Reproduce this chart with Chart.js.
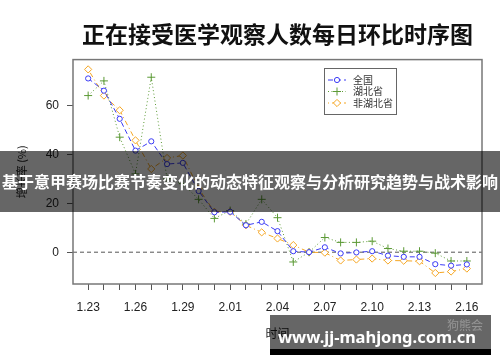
<!DOCTYPE html>
<html>
<head>
<meta charset="utf-8">
<script src="https://cdn.jsdelivr.net/npm/chart.js@4/dist/chart.umd.min.js"></script>
<style>
  body { margin: 0; background: #fff; }
  #wrap { position: relative; width: 500px; height: 362px; overflow: hidden; }
  .banner {
    position: absolute; left: 0; top: 151px; width: 500px; height: 61px;
    background: rgba(0, 0, 0, 0.6); color: #fff;
    font: bold 16px "Noto Sans CJK SC", sans-serif; line-height: 61px;
    text-align: center; white-space: nowrap; overflow: hidden;
  }
  .mark {
    position: absolute; left: 270px; top: 315px; width: 221px; height: 34px;
    background: rgba(0, 0, 0, 0.6); border-bottom: 6px solid #000;
    color: #fff; font: bold 16.5px "Noto Sans", sans-serif; line-height: 44px;
    padding-left: 8px; box-sizing: content-box; white-space: nowrap;
    width: 213px;
  }
  .logo {
    position: absolute; right: 8px; top: 1px; line-height: 14px;
    font: 12px "Noto Sans CJK SC", sans-serif; color: rgba(255, 255, 255, 0.3);
  }
</style>
</head>
<body>
<div id="wrap">
  <canvas id="chart" width="500" height="362"></canvas>
  <div class="banner">基于意甲赛场比赛节奏变化的动态特征观察与分析研究趋势与战术影响</div>
  <div class="mark"><span class="logo">狗熊会</span>www.jj-mahjong.com.cn</div>
</div>
<script>
const dates = [
  '1.23', '1.24', '1.25', '1.26', '1.27', '1.28', '1.29', '1.30', '1.31',
  '2.01', '2.02', '2.03', '2.04', '2.05', '2.06', '2.07', '2.08', '2.09',
  '2.10', '2.11', '2.12', '2.13', '2.14', '2.15', '2.16',
];

// daily change (%) of people under medical observation
const nationwide = [
  71, 66, 54.5, 41.5, 45.3, 36, 36.5, 25, 16.3, 16.5, 11, 12.4, 8.6,
  0.4, 0, 2, -0.5, -0.1, 0.4, -1.4, -1.9, -1.9, -4.9, -5.5, -5,
];
const hubei = [
  64, 70, 47, 32, 71.5, 30, 28, 21.6, 13.8, 17, 11.5, 21.6, 14.1,
  -4, 0, 6, 4, 4, 4.5, 1.5, 0.4, 0.4, -0.4, -3.6, -3.6,
];
const outsideHubei = [
  74.7, 64, 58, 45.7, 34, 38.5, 39.5, 26, 16.5, 16.5, 11, 8.1, 5.6,
  2.9, 0, -0.2, -3.4, -3, -2.6, -3.4, -3.5, -3.7, -8.5, -7.9, -6.7,
];

const seriesNames = ['全国', '湖北省', '非湖北省'];
const yTicks = [0, 20, 40, 60];

const toPoints = (values) => values.map((v, i) => ({ x: i, y: v }));

// dashed zero line + plot frame, like base R graphics
const frame = {
  id: 'frame',
  beforeDatasetsDraw(chart) {
    const { ctx, chartArea } = chart;
    const y0 = chart.scales.y.getPixelForValue(0);
    ctx.save();
    ctx.strokeStyle = '#555';
    ctx.lineWidth = 1;
    ctx.setLineDash([4, 3]);
    ctx.beginPath();
    ctx.moveTo(chartArea.left, y0);
    ctx.lineTo(chartArea.right, y0);
    ctx.stroke();
    ctx.restore();
  },
  afterDraw(chart) {
    const { ctx, chartArea } = chart;
    ctx.save();
    ctx.strokeStyle = '#777';
    ctx.lineWidth = 1.5;
    ctx.strokeRect(chartArea.left, chartArea.top,
      chartArea.right - chartArea.left, chartArea.bottom - chartArea.top);
    ctx.restore();
  },
};

// boxed legend inside the plot
const boxLegend = {
  id: 'boxLegend',
  afterDraw(chart) {
    const ctx = chart.ctx;
    const left = 324, top = 68, width = 72, height = 46;
    ctx.save();
    ctx.strokeStyle = '#666';
    ctx.lineWidth = 1;
    ctx.strokeRect(left + 0.5, top + 0.5, width, height);
    ctx.font = '10px "Noto Sans CJK SC"';
    ctx.textBaseline = 'middle';
    chart.data.datasets.forEach((ds, i) => {
      const y = top + 12 + i * 11.5;
      ctx.strokeStyle = ds.borderColor;
      ctx.lineWidth = 1;
      ctx.setLineDash(ds.borderDash);
      ctx.beginPath();
      ctx.moveTo(left + 4, y);
      ctx.lineTo(left + 22, y);
      ctx.stroke();
      ctx.setLineDash([]);
      ctx.fillStyle = ds.pointBackgroundColor;
      Chart.helpers.drawPoint(ctx, {
        pointStyle: ds.pointStyle,
        radius: ds.pointRadius,
        borderWidth: 1,
        rotation: 0,
      }, left + 13, y);
      ctx.fillStyle = '#333';
      ctx.fillText(ds.label, left + 29, y);
    });
    ctx.restore();
  },
};

function renderChart() {
  const canvas = document.getElementById('chart');

  new Chart(canvas, {
    type: 'line',
    data: {
      datasets: [
        {
          label: seriesNames[0],
          data: toPoints(nationwide),
          borderColor: '#3b3bf5',
          borderWidth: 1,
          borderDash: [5, 3],
          pointStyle: 'circle',
          pointRadius: 2.6,
          pointBorderWidth: 1,
          pointBackgroundColor: '#fff',
          pointBorderColor: '#3b3bf5',
        },
        {
          label: seriesNames[1],
          data: toPoints(hubei),
          borderColor: '#5c9a36',
          borderWidth: 1,
          borderDash: [1, 2.5],
          pointStyle: 'cross',
          pointRadius: 4,
          pointBorderWidth: 1,
          pointBackgroundColor: 'rgba(0,0,0,0)',
          pointBorderColor: '#5c9a36',
        },
        {
          label: seriesNames[2],
          data: toPoints(outsideHubei),
          borderColor: '#f5a623',
          borderWidth: 1,
          borderDash: [1, 3, 5, 3],
          pointStyle: 'rectRot',
          pointRadius: 3.6,
          pointBorderWidth: 1,
          pointBackgroundColor: '#fff',
          pointBorderColor: '#f5a623',
        },
      ],
    },
    options: {
      responsive: false,
      animation: false,
      layout: { padding: { left: 0, right: 18, top: 0, bottom: 0 } },
      plugins: {
        legend: { display: false },
        tooltip: { enabled: false },
        title: {
          display: true,
          fullSize: false,
          text: '正在接受医学观察人数每日环比时序图',
          color: '#111',
          font: { family: '"Noto Sans CJK SC"', size: 23, weight: 'bold' },
          padding: { top: 20, bottom: 12 },
        },
      },
      scales: {
        x: {
          type: 'linear',
          min: -0.96,
          max: 24.96,
          border: { display: false },
          grid: { drawOnChartArea: false, tickLength: 6, color: '#555' },
          ticks: {
            stepSize: 1,
            autoSkip: false,
            maxRotation: 0,
            includeBounds: false,
            padding: 10,
            color: '#222',
            font: { family: '"Liberation Sans"', size: 12 },
            callback: (v) => (Number.isInteger(v) && v % 3 === 0 ? dates[v] : ''),
          },
          title: {
            display: true,
            text: '时间',
            color: '#222',
            font: { family: '"Noto Sans CJK SC"', size: 12 },
            padding: { top: 0, bottom: 21 },
          },
          afterFit: (scale) => { scale.height = 78; },
        },
        y: {
          min: -13,
          max: 78.7,
          border: { display: false },
          grid: { drawOnChartArea: false, tickLength: 6, color: '#555' },
          afterBuildTicks: (scale) => {
            scale.ticks = yTicks.map((v) => ({ value: v }));
          },
          ticks: {
            padding: 8,
            color: '#222',
            font: { family: '"Liberation Sans"', size: 12 },
          },
          title: {
            display: true,
            text: '增长率 (%)',
            color: '#222',
            font: { family: '"Noto Sans CJK SC"', size: 11 },
            padding: { top: 15, bottom: 0 },
          },
          afterFit: (scale) => { scale.width = 73; },
        },
      },
    },
    plugins: [frame, boxLegend],
  });
}

renderChart();
</script>
</body>
</html>
